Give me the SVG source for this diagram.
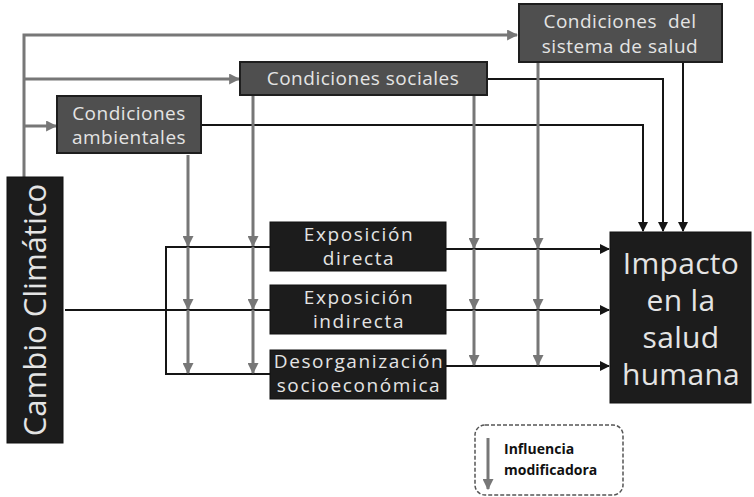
<svg xmlns="http://www.w3.org/2000/svg" width="754" height="497" viewBox="0 0 754 497">
<defs>
<style>
.cond{fill:#4f4f4f;stroke:#1e1e1e;stroke-width:2}
.blk{fill:#1c1c1c;stroke:#111;stroke-width:1}
.t{font-family:"Open Sans","DejaVu Sans",sans-serif;fill:#e4e4e4;text-anchor:middle}
.ct{font-size:19px;letter-spacing:0.5px}
.et{font-size:19px;letter-spacing:1.6px}
.it{font-size:30px;letter-spacing:0.3px}
.g{stroke:#777;stroke-width:3;fill:none}
.b{stroke:#151515;stroke-width:2;fill:none}
.lg{font-family:"Open Sans","DejaVu Sans",sans-serif;font-weight:bold;font-size:14px;fill:#111}
</style>
<marker id="ag" viewBox="0 0 10 10" refX="9" refY="5" markerWidth="11" markerHeight="11" markerUnits="userSpaceOnUse" orient="auto"><path d="M0,0 L10,5 L0,10 z" fill="#777"/></marker>
<marker id="ab" viewBox="0 0 10 10" refX="9" refY="5" markerWidth="10" markerHeight="10" markerUnits="userSpaceOnUse" orient="auto"><path d="M0,0 L10,5 L0,10 z" fill="#151515"/></marker>
</defs>
<rect width="754" height="497" fill="#fff"/>
<g id="connectors">
<path class="g" d="M24,177 V35 H517" marker-end="url(#ag)"/>
<path class="g" d="M24,79 H239" marker-end="url(#ag)"/>
<path class="g" d="M24,126 H56" marker-end="url(#ag)"/>
<path class="b" d="M201,125 H643 V231" marker-end="url(#ab)"/>
<path class="b" d="M487,79 H663 V231" marker-end="url(#ab)"/>
<path class="b" d="M683,62 V231" marker-end="url(#ab)"/>
<path class="b" d="M65,310 H270"/>
<path class="b" d="M270,247 H166 V374 H270"/>
<path class="b" d="M446,249 H609" marker-end="url(#ab)"/>
<path class="b" d="M446,310 H609" marker-end="url(#ab)"/>
<path class="b" d="M446,366 H609" marker-end="url(#ab)"/>
<path class="g" d="M188,155 V246" marker-end="url(#ag)"/>
<path class="g" d="M188,247 V309" marker-end="url(#ag)"/>
<path class="g" d="M188,310 V373" marker-end="url(#ag)"/>
<path class="g" d="M253,96 V246" marker-end="url(#ag)"/>
<path class="g" d="M253,247 V309" marker-end="url(#ag)"/>
<path class="g" d="M253,310 V373" marker-end="url(#ag)"/>
<path class="g" d="M474,96 V248" marker-end="url(#ag)"/>
<path class="g" d="M474,249 V309" marker-end="url(#ag)"/>
<path class="g" d="M474,310 V365" marker-end="url(#ag)"/>
<path class="g" d="M538,63 V248" marker-end="url(#ag)"/>
<path class="g" d="M538,249 V309" marker-end="url(#ag)"/>
<path class="g" d="M538,310 V365" marker-end="url(#ag)"/>
</g>
<g id="cambio">
<rect class="blk" x="7" y="177" width="56" height="266"/>
<text class="t" transform="translate(46,310) rotate(-90)" font-size="31">Cambio Climático</text>
</g>
<g id="ambientales">
<rect class="cond" x="57" y="96" width="144" height="57"/>
<text class="t ct" x="129" y="120">Condiciones</text>
<text class="t ct" x="129" y="144">ambientales</text>
</g>
<g id="sociales">
<rect class="cond" x="240" y="62" width="247" height="33"/>
<text class="t ct" x="363" y="85">Condiciones sociales</text>
</g>
<g id="sistema">
<rect class="cond" x="519" y="4" width="203" height="58"/>
<text class="t ct" x="620" y="28" xml:space="preserve">Condiciones  del</text>
<text class="t ct" x="620" y="53">sistema de salud</text>
</g>
<g id="directa">
<rect class="blk" x="270" y="222" width="176" height="49"/>
<text class="t et" x="359" y="241">Exposición</text>
<text class="t et" x="359" y="265">directa</text>
</g>
<g id="indirecta">
<rect class="blk" x="270" y="285" width="176" height="49"/>
<text class="t et" x="359" y="304">Exposición</text>
<text class="t et" x="359" y="328">indirecta</text>
</g>
<g id="desorganizacion">
<rect class="blk" x="270" y="350" width="176" height="49"/>
<text class="t et" x="359" y="368">Desorganización</text>
<text class="t et" x="359" y="392">socioeconómica</text>
</g>
<g id="impacto">
<rect class="blk" x="610" y="232" width="141" height="171"/>
<text class="t it" x="681" y="274">Impacto</text>
<text class="t it" x="681" y="311">en la</text>
<text class="t it" x="681" y="348">salud</text>
<text class="t it" x="681" y="385">humana</text>
</g>
<g id="leyenda">
<rect x="475" y="425" width="148" height="70" rx="10" fill="none" stroke="#555" stroke-width="1.5" stroke-dasharray="4,2"/>
<path class="g" d="M488,438 V489" marker-end="url(#ag)"/>
<text class="lg" x="504" y="454">Influencia</text>
<text class="lg" x="504" y="475">modificadora</text>
</g>
</svg>
